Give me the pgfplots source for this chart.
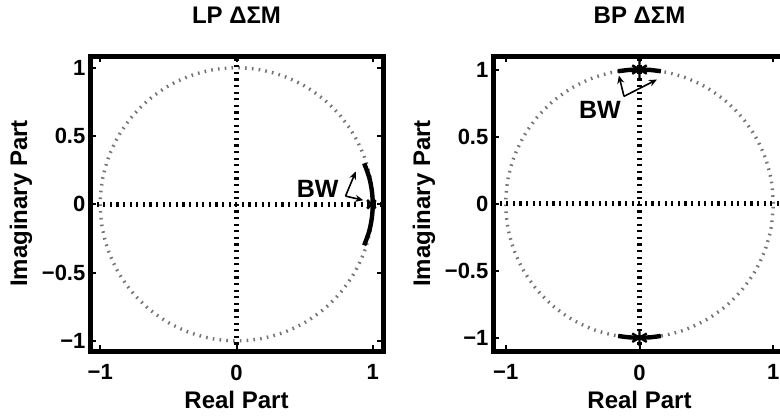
\documentclass[border=0pt]{standalone}
\usepackage{fontspec}
\setmainfont{Liberation Sans}
\usepackage{pgfplots}
\pgfplotsset{compat=1.18}
\usetikzlibrary{arrows.meta}

\tikzset{bwarrow/.style={-{Stealth[length=4pt,width=3.5pt]}, line width=0.8pt, black},
  thickbox/.style={line width=2.5pt, line join=miter, black}}
\pgfplotsset{
  zp/.style={
    scale only axis,
    width=146.5pt, height=147.5pt,
    axis line style={line width=2.5pt},
    xtick={-1,0,1}, xticklabels={−1,0,1},
    ytick={-1,-0.5,0,0.5,1}, yticklabels={−1,−0.5,0,0.5,1},
    major tick length=3pt,
    tick style={line width=1pt, black},
    tick label style={font=\fontsize{11}{12}\selectfont\bfseries},
    xticklabel style={yshift=-3.3pt},
    yticklabel style={xshift=1.2pt},
    label style={font=\fontsize{12}{13}\selectfont\bfseries},
    xlabel={Real Part}, ylabel={Imaginary Part},
    xlabel style={at={(axis description cs:0.5,-0.196)}, anchor=base},
    ylabel style={at={(axis description cs:-0.215,0.5)}, anchor=base},
    title style={font=\fontsize{12}{13}\selectfont\bfseries, at={(axis description cs:0.5,1.071)}, anchor=base, yshift=0pt},
    clip=false,
  },
  ucirc/.style={smooth, black!55, line width=1.7pt, dash pattern=on 0.8pt off 2.6pt},
  zaxis/.style={black, line width=2.8pt, dash pattern=on 1.1pt off 2.2pt},
  bwarc/.style={black, line width=2.2pt, smooth},
  pz/.style={only marks, mark=x, mark size=3pt, mark options={line width=1.3pt, black}},
  pzb/.style={only marks, mark=asterisk, mark size=4.2pt, mark options={line width=1.2pt, black}},
}

\pgfplotstableread{
x y
1.0000 0.0000
0.9848 0.1736
0.9397 0.3420
0.8660 0.5000
0.7660 0.6428
0.6428 0.7660
0.5000 0.8660
0.3420 0.9397
0.1736 0.9848
0.0000 1.0000
-0.1736 0.9848
-0.3420 0.9397
-0.5000 0.8660
-0.6428 0.7660
-0.7660 0.6428
-0.8660 0.5000
-0.9397 0.3420
-0.9848 0.1736
-1.0000 0.0000
-0.9848 -0.1736
-0.9397 -0.3420
-0.8660 -0.5000
-0.7660 -0.6428
-0.6428 -0.7660
-0.5000 -0.8660
-0.3420 -0.9397
-0.1736 -0.9848
0.0000 -1.0000
0.1736 -0.9848
0.3420 -0.9397
0.5000 -0.8660
0.6428 -0.7660
0.7660 -0.6428
0.8660 -0.5000
0.9397 -0.3420
0.9848 -0.1736
1.0000 0.0000
}\unitcircle

\begin{document}
\begin{tikzpicture}[trim left=0pt, trim right=390pt]
\path (0,0) rectangle (390pt,202.5pt);

% ---------------- LP ----------------
\begin{axis}[zp, at={(45pt,27.5pt)}, anchor=south west,
  xmin=-1.075, xmax=1.075, ymin=-1.075, ymax=1.085,
  title={LP ΔΣM}]
  \addplot[ucirc] table {\unitcircle};
  \addplot[zaxis] coordinates {(-1.075,0) (1.075,0)};
  \addplot[zaxis] coordinates {(0,-1.075) (0,1.085)};
  \addplot[bwarc] coordinates {(0.937,-0.30) (0.973,-0.2) (0.993,-0.1) (1.0,0) (0.993,0.1) (0.973,0.2) (0.937,0.30)};
  \addplot[pz] coordinates {(0.99,0)};
  \node[font=\fontsize{12.5}{13}\selectfont\bfseries, fill=white, inner sep=0.5pt] at (axis cs:0.595,0.115) {BW};
  \draw[bwarrow] (axis cs:0.80,0.06) -- (axis cs:0.875,0.24);
  \draw[bwarrow] (axis cs:0.80,0.06) -- (axis cs:0.93,0.03);
  \draw[thickbox] (rel axis cs:0,0) rectangle (rel axis cs:1,1);
\end{axis}

% ---------------- BP ----------------
\begin{axis}[zp, at={(246.5pt,27.5pt)}, anchor=south west,
  xmin=-1.095, xmax=1.095, ymin=-1.1, ymax=1.1,
  title={BP ΔΣM}]
  \addplot[ucirc] table {\unitcircle};
  \addplot[zaxis] coordinates {(-1.095,0) (1.095,0)};
  \addplot[zaxis] coordinates {(0,-1.1) (0,1.1)};
  \addplot[bwarc] coordinates {(-0.16,0.987) (-0.08,0.997) (0,1) (0.08,0.997) (0.16,0.987)};
  \addplot[bwarc] coordinates {(-0.16,-0.987) (-0.08,-0.997) (0,-1) (0.08,-0.997) (0.16,-0.987)};
  \addplot[pzb] coordinates {(0,1) (0,-1)};
  \node[font=\fontsize{12.5}{13}\selectfont\bfseries, fill=white, inner sep=0.5pt] at (axis cs:-0.296,0.70) {BW};
  \draw[bwarrow] (axis cs:-0.116,0.80) -- (axis cs:-0.154,0.955);
  \draw[bwarrow] (axis cs:-0.116,0.80) -- (axis cs:0.13,0.925);
  \draw[thickbox] (rel axis cs:0,0) rectangle (rel axis cs:1,1);
\end{axis}
\end{tikzpicture}
\end{document}
